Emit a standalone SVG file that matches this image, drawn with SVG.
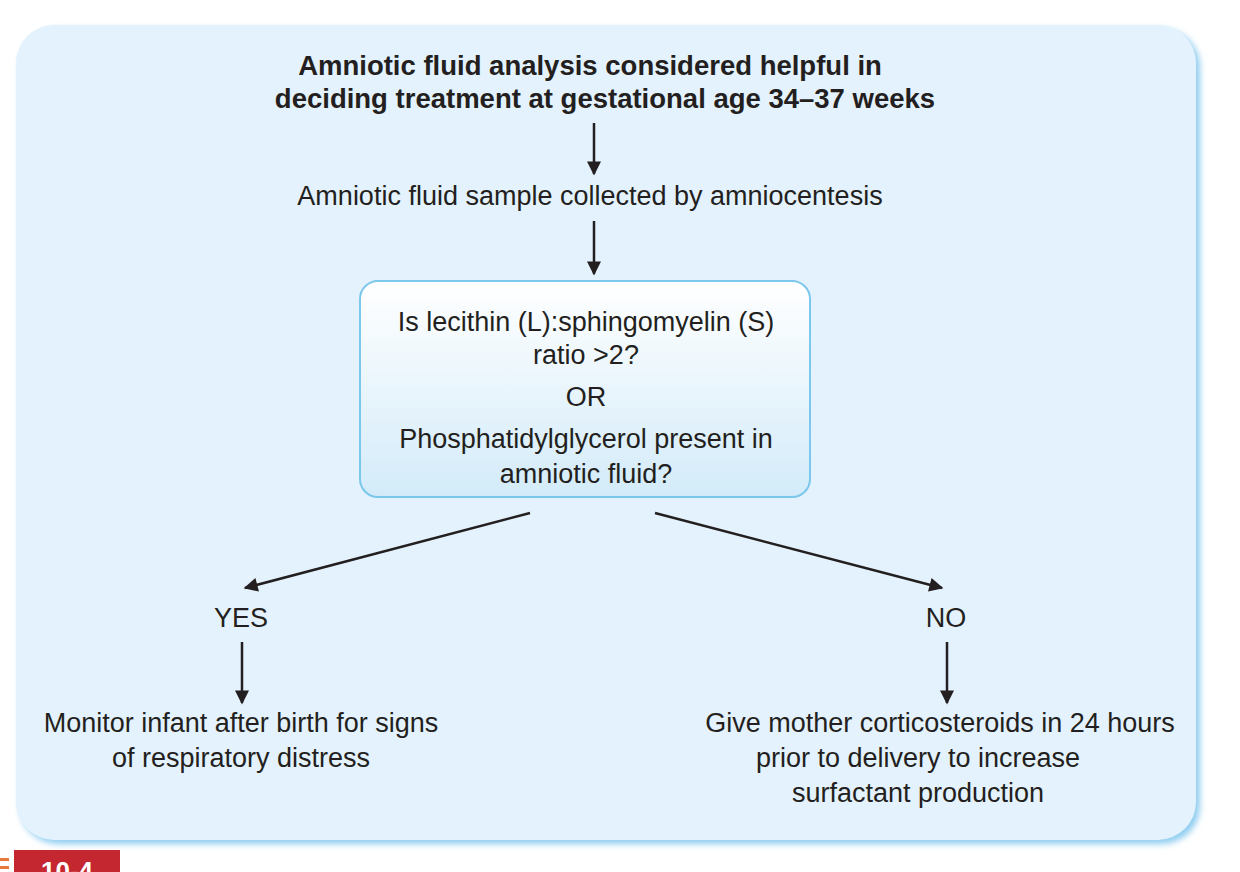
<svg xmlns="http://www.w3.org/2000/svg" width="1240" height="872" viewBox="0 0 1240 872">
<defs>
<style>
text{font-family:"Liberation Sans",Arial,sans-serif;fill:#231f20;text-anchor:middle;font-size:27px}
.b{font-weight:bold;font-size:27.5px}
.c{stroke:#231f20;stroke-width:2.5;fill:none}
</style>
<marker id="a" viewBox="0 0 10 10" refX="9" refY="5" markerWidth="16" markerHeight="14" orient="auto" markerUnits="userSpaceOnUse"><path d="M0,0 L10,5 L0,10 Z" fill="#231f20"/></marker>
<linearGradient id="g" x1="0" y1="0" x2="0" y2="1"><stop offset="0" stop-color="#ffffff"/><stop offset="1" stop-color="#d3ebf9"/></linearGradient>
<filter id="s" x="-5%" y="-5%" width="110%" height="110%"><feGaussianBlur stdDeviation="3"/></filter>
</defs>
<rect width="1240" height="872" fill="#fff"/>
<rect x="20" y="29" width="1180" height="815" rx="38" fill="#8fcdf0" filter="url(#s)"/>
<rect x="16" y="25" width="1180" height="815" rx="38" fill="#e3f2fc"/>
<rect x="0" y="858" width="9" height="3" fill="#e8793b"/><rect x="0" y="866" width="9" height="3" fill="#e8793b"/>
<rect x="14" y="850" width="106" height="30" fill="#c4272f"/>
<text x="67" y="880" style="fill:#fff;font-weight:bold;font-size:26px">10-4</text>
<g id="n1"><text class="b" x="590" y="75">Amniotic fluid analysis considered helpful in</text><text class="b" x="605" y="108">deciding treatment at gestational age 34–37 weeks</text></g>
<g id="n2"><text x="590" y="205">Amniotic fluid sample collected by amniocentesis</text></g>
<g id="n3"><rect x="360" y="281" width="450" height="216" rx="18" fill="url(#g)" stroke="#7cc7ec" stroke-width="2"/>
<text x="586" y="331">Is lecithin (L):sphingomyelin (S)</text><text x="586" y="364">ratio &gt;2?</text><text x="586" y="406">OR</text><text x="586" y="448">Phosphatidylglycerol present in</text><text x="586" y="483">amniotic fluid?</text></g>
<g id="n4"><text x="241" y="627">YES</text></g>
<g id="n5"><text x="946" y="627">NO</text></g>
<g id="n6"><text x="241" y="732">Monitor infant after birth for signs</text><text x="241" y="767">of respiratory distress</text></g>
<g id="n7"><text x="940" y="732">Give mother corticosteroids in 24 hours</text><text x="918" y="767">prior to delivery to increase</text><text x="918" y="802">surfactant production</text></g>
<g id="connectors">
<line class="c" x1="594" y1="123" x2="594" y2="174" marker-end="url(#a)"/>
<line class="c" x1="594" y1="221" x2="594" y2="274" marker-end="url(#a)"/>
<line class="c" x1="530" y1="513" x2="245" y2="588" marker-end="url(#a)"/>
<line class="c" x1="655" y1="513" x2="942" y2="588" marker-end="url(#a)"/>
<line class="c" x1="242" y1="642" x2="242" y2="703" marker-end="url(#a)"/>
<line class="c" x1="947" y1="642" x2="947" y2="703" marker-end="url(#a)"/>
</g>
</svg>
